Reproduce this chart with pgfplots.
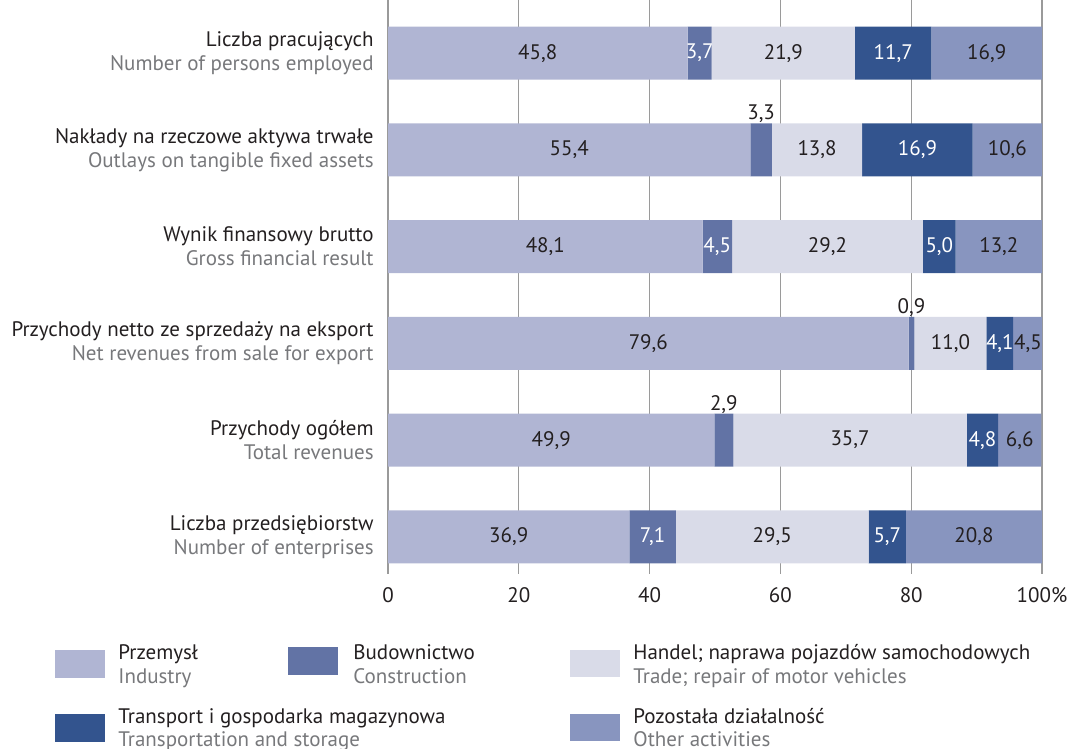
\documentclass[border=0pt]{standalone}
\usepackage{fontspec}
\setmainfont{PT Sans}
\usepackage{pgfplots}
\usepackage{pgfplotstable}
\pgfplotsset{compat=1.18}

\definecolor{cInd}{HTML}{B0B5D3}
\definecolor{cCon}{HTML}{6273A5}
\definecolor{cTra}{HTML}{D9DBE8}
\definecolor{cTrs}{HTML}{33548E}
\definecolor{cOth}{HTML}{8895BF}
\definecolor{txt}{HTML}{231F20}
\definecolor{sub}{HTML}{77787B}
\definecolor{gridc}{HTML}{9A9A9A}

% shares in %, rows from bottom (0) to top (5)
\pgfplotstableread{
row ind con tra trs oth
5 45.8 3.7 21.9 11.7 16.9
4 55.4 3.3 13.8 16.9 10.6
3 48.1 4.5 29.2 5.0 13.2
2 79.6 0.9 11.0 4.1 4.5
1 49.9 2.9 35.7 4.8 6.6
0 36.9 7.1 29.5 5.7 20.8
}\shares

\newcommand{\lblfont}{\fontsize{10.5pt}{12pt}\selectfont}
\newcommand{\twoline}[2]{#1\\\textcolor{sub}{#2}}
\tikzset{
  vl/.style={font=\lblfont, text=txt, inner sep=0pt},
  vw/.style={font=\lblfont, text=white, inner sep=0pt},
  lg/.style={font=\lblfont, inner sep=0pt, anchor=base west},
}

\begin{document}
\begin{tikzpicture}
\path[use as bounding box] (0,0) rectangle (539.5pt,374pt);
\begin{axis}[
  at={(194pt,92pt)}, anchor=south west,
  scale only axis, width=327pt, height=282pt,
  xbar stacked, bar width=0.548,
  xmin=0, xmax=100, ymin=-0.28, ymax=5.55,
  axis line style={draw=none},
  xmajorgrids, major grid style={gridc, line width=0.6pt},
  xtick={0,20,40,60,80,100},
  xticklabels={0,20,40,60,80,100\%},
  tick align=outside, tick pos=left,
  major tick length=5pt,
  xtick style={gridc, line width=0.6pt},
  ytick={0,1,2,3,4,5},
  ytick style={draw=none},
  yticklabels={
    {\twoline{Liczba przedsiębiorstw}{Number of enterprises}},
    {\twoline{Przychody ogółem}{Total revenues}},
    {\twoline{Przychody netto ze sprzedaży na eksport}{Net revenues from sale for export}},
    {\twoline{Wynik finansowy brutto}{Gross financial result}},
    {\twoline{Nakłady na rzeczowe aktywa trwałe}{Outlays on tangible fixed assets}},
    {\twoline{Liczba pracujących}{Number of persons employed}}},
  yticklabel style={font=\lblfont, text=txt, align=right, inner sep=0pt, xshift=-2pt},
  xticklabel style={font=\lblfont, text=txt, yshift=-3pt},
]
\addplot[fill=cInd, draw=none] table[x=ind, y=row] {\shares};
\addplot[fill=cCon, draw=none] table[x=con, y=row] {\shares};
\addplot[fill=cTra, draw=none] table[x=tra, y=row] {\shares};
\addplot[fill=cTrs, draw=none] table[x=trs, y=row] {\shares};
\addplot[fill=cOth, draw=none] table[x=oth, y=row] {\shares};

% anchors at segment centres (labels are set after the bars)
\coordinate (a1) at (axis cs:22.9,5);
\coordinate (a2) at (axis cs:47.65,5);
\coordinate (a3) at (axis cs:60.45,5);
\coordinate (a4) at (axis cs:77.25,5);
\coordinate (a5) at (axis cs:91.55,5);
\coordinate (b1) at (axis cs:27.7,4);
\coordinate (b2) at (axis cs:57.05,4.37);
\coordinate (b3) at (axis cs:65.6,4);
\coordinate (b4) at (axis cs:80.95,4);
\coordinate (b5) at (axis cs:94.7,4);
\coordinate (c1) at (axis cs:24.05,3);
\coordinate (c2) at (axis cs:50.35,3);
\coordinate (c3) at (axis cs:67.2,3);
\coordinate (c4) at (axis cs:84.3,3);
\coordinate (c5) at (axis cs:93.4,3);
\coordinate (d1) at (axis cs:39.8,2);
\coordinate (d2) at (axis cs:80.05,2.37);
\coordinate (d3) at (axis cs:86.0,2);
\coordinate (d4) at (axis cs:93.55,2);
\coordinate (d5) at (axis cs:97.85,2);
\coordinate (e1) at (axis cs:24.95,1);
\coordinate (e2) at (axis cs:51.35,1.37);
\coordinate (e3) at (axis cs:70.65,1);
\coordinate (e4) at (axis cs:90.9,1);
\coordinate (e5) at (axis cs:96.6,1);
\coordinate (f1) at (axis cs:18.45,0);
\coordinate (f2) at (axis cs:40.45,0);
\coordinate (f3) at (axis cs:58.75,0);
\coordinate (f4) at (axis cs:76.35,0);
\coordinate (f5) at (axis cs:89.6,0);
\end{axis}

% value labels
\node[vl] at (a1) {45,8};
\node[vw] at (a2) {3,7};
\node[vl] at (a3) {21,9};
\node[vw] at (a4) {11,7};
\node[vl] at (a5) {16,9};
\node[vl] at (b1) {55,4};
\node[vl] at (b2) {3,3};
\node[vl] at (b3) {13,8};
\node[vw] at (b4) {16,9};
\node[vl] at (b5) {10,6};
\node[vl] at (c1) {48,1};
\node[vw] at (c2) {4,5};
\node[vl] at (c3) {29,2};
\node[vw] at (c4) {5,0};
\node[vl] at (c5) {13,2};
\node[vl] at (d1) {79,6};
\node[vl] at (d2) {0,9};
\node[vl] at (d3) {11,0};
\node[vw] at (d4) {4,1};
\node[vl] at (d5) {4,5};
\node[vl] at (e1) {49,9};
\node[vl] at (e2) {2,9};
\node[vl] at (e3) {35,7};
\node[vw] at (e4) {4,8};
\node[vl] at (e5) {6,6};
\node[vl] at (f1) {36,9};
\node[vw] at (f2) {7,1};
\node[vl] at (f3) {29,5};
\node[vw] at (f4) {5,7};
\node[vl] at (f5) {20,8};

% legend
\fill[cInd] (27.5pt,35pt) rectangle (52.5pt,49pt);
\fill[cCon] (144pt,36.5pt) rectangle (169pt,50.5pt);
\fill[cTra] (285pt,35.5pt) rectangle (310pt,49pt);
\fill[cTrs] (27.5pt,3pt) rectangle (52.5pt,17pt);
\fill[cOth] (285pt,3.5pt) rectangle (310pt,17pt);
\node[lg, text=txt] at (59pt,44pt) {Przemysł};
\node[lg, text=sub] at (59pt,32pt) {Industry};
\node[lg, text=txt] at (176.5pt,44pt) {Budownictwo};
\node[lg, text=sub] at (176.5pt,32pt) {Construction};
\node[lg, text=txt] at (316.5pt,44pt) {Handel; naprawa pojazdów samochodowych};
\node[lg, text=sub] at (316.5pt,32pt) {Trade; repair of motor vehicles};
\node[lg, text=txt] at (59pt,12.5pt) {Transport i gospodarka magazynowa};
\node[lg, text=sub] at (59pt,1pt) {Transportation and storage};
\node[lg, text=txt] at (316.5pt,12.5pt) {Pozostała działalność};
\node[lg, text=sub] at (316.5pt,1pt) {Other activities};
\end{tikzpicture}
\end{document}
